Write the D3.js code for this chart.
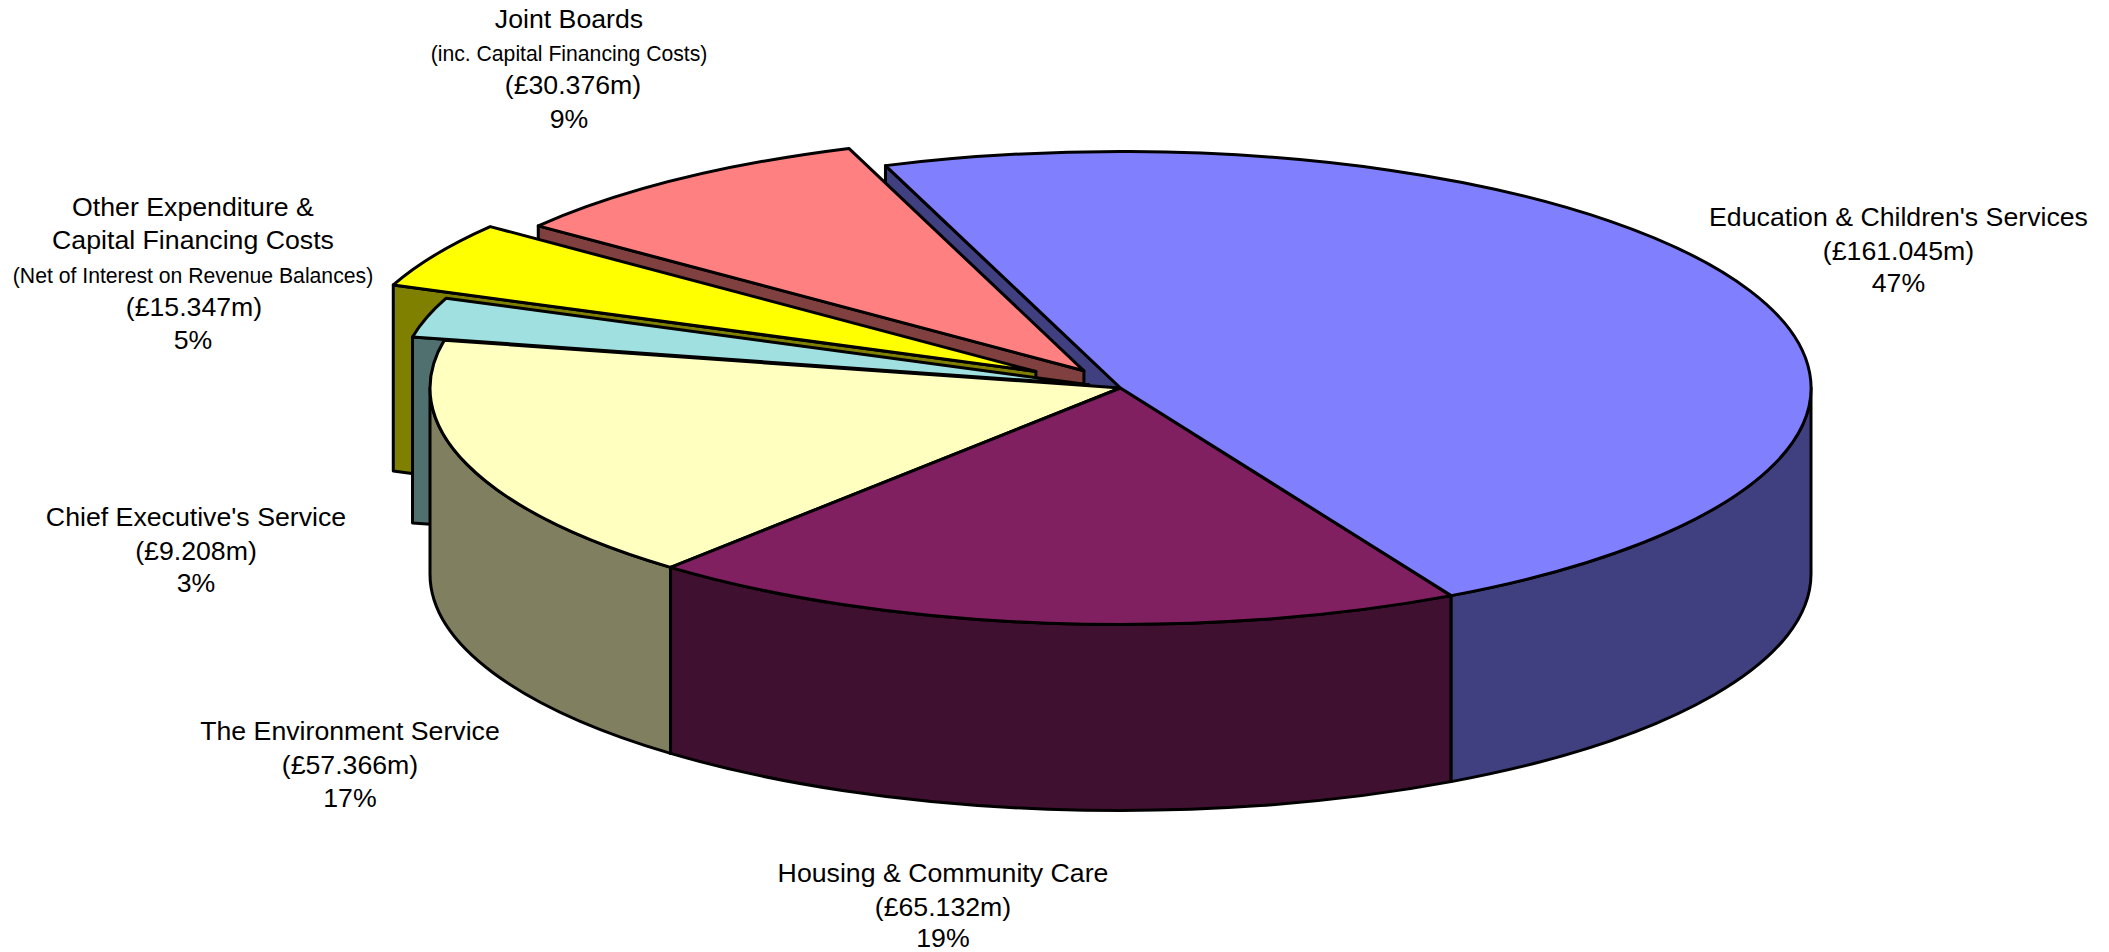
<!DOCTYPE html>
<html>
<head>
<meta charset="utf-8">
<style>
  html, body { margin: 0; padding: 0; background: #fff; }
  svg { display: block; }
  text { font-family: "Liberation Sans", Arial, sans-serif; fill: #000; text-anchor: middle; }
</style>
<script src="https://cdn.jsdelivr.net/npm/d3@7/dist/d3.min.js"></script>
</head>
<body>
<svg id="chart" width="2109" height="952"></svg>
<script>
// Budget breakdown, in £ million, clockwise from the back of the pie.
const services = [
  "Education & Children's Services",
  "Housing & Community Care",
  "The Environment Service",
  "Chief Executive's Service",
  "Other Expenditure & Capital Financing Costs",
  "Joint Boards"
];
const amounts = [161.045, 65.132, 57.366, 9.208, 15.347, 30.376];
const amountLabels = ["(£161.045m)", "(£65.132m)", "(£57.366m)", "(£9.208m)", "(£15.347m)", "(£30.376m)"];
const percentLabels = ["47%", "19%", "17%", "3%", "5%", "9%"];
const topColours = ["#8080ff", "#802060", "#ffffc0", "#a0e0e0", "#ffff00", "#ff8080"];
const sideColours = ["#404080", "#401030", "#808060", "#507070", "#808000", "#804040"];

// How far each slice is pulled out of the pie, as a share of the radius.
const explode = [0, 0, 0, 0.048, 0.141, 0.09];

// Pie geometry.
const cx = 1120.5, cy = 388, rx = 690.5, ry = 236.5, depth = 186;
const startDeg = -19.9;
const stroke = 3;

// Label blocks: centre x, then one [text, size, baseline, x nudge] row per line.
const big = 26.7, small = 21.2;
const labelBlocks = [
  { x: 1898.5, rows: [[services[0], big, 226], [amountLabels[0], big, 260], [percentLabels[0], big, 292]] },
  { x: 943,  rows: [[services[1], big, 881.5], [amountLabels[1], big, 916], [percentLabels[1], big, 947]] },
  { x: 350,  rows: [[services[2], big, 740], [amountLabels[2], big, 774], [percentLabels[2], big, 807]] },
  { x: 196,  rows: [[services[3], big, 526], [amountLabels[3], big, 560], [percentLabels[3], big, 592]] },
  { x: 193,  rows: [["Other Expenditure &", big, 216], ["Capital Financing Costs", big, 249],
                    ["(Net of Interest on Revenue Balances)", small, 283],
                    [amountLabels[4], big, 316, 1], [percentLabels[4], big, 349]] },
  { x: 569,  rows: [[services[5], big, 27.5], ["(inc. Capital Financing Costs)", small, 61],
                    [amountLabels[5], big, 94, 4], [percentLabels[5], big, 128]] }
];

const svg = d3.select("#chart");

const slices = d3.pie()
  .sort(null)
  .startAngle(startDeg * Math.PI / 180)
  .endAngle((startDeg + 360) * Math.PI / 180)(amounts)
  .map((s, i) => {
    const mid = (s.startAngle + s.endAngle) / 2;
    return {
      ...s, i,
      ox: cx + Math.sin(mid) * rx * explode[i],
      oy: cy - Math.cos(mid) * ry * explode[i]
    };
  });

const rim = (s, a) => [s.ox + Math.sin(a) * rx, s.oy - Math.cos(a) * ry];
const fmt = p => p.map(v => +v.toFixed(2)).join(" ");

function topPath(s) {
  const large = s.endAngle - s.startAngle > Math.PI ? 1 : 0;
  return `M${fmt([s.ox, s.oy])}L${fmt(rim(s, s.startAngle))}` +
         `A${rx} ${ry} 0 ${large} 1 ${fmt(rim(s, s.endAngle))}Z`;
}

// Flat face exposed along a slice's starting edge.
function cutFacePath(s) {
  const p = rim(s, s.startAngle);
  return `M${fmt([s.ox, s.oy])}L${fmt(p)}L${fmt([p[0], p[1] + depth])}` +
         `L${fmt([s.ox, s.oy + depth])}Z`;
}

// Curved outer wall: only the stretch facing the viewer, between 90° and 270°.
function wallPath(s, a0, a1) {
  const p0 = rim(s, a0), p1 = rim(s, a1);
  return `M${fmt(p0)}A${rx} ${ry} 0 0 1 ${fmt(p1)}` +
         `L${fmt([p1[0], p1[1] + depth])}` +
         `A${rx} ${ry} 0 0 0 ${fmt([p0[0], p0[1] + depth])}Z`;
}

const shape = (d, fill) => svg.append("path")
  .attr("d", d).attr("fill", fill)
  .attr("stroke", "#000").attr("stroke-width", stroke)
  .attr("stroke-linejoin", "round");

const visibleWall = s => {
  const lo = Math.max(s.startAngle, Math.PI / 2);
  const hi = Math.min(s.endAngle, 3 * Math.PI / 2);
  return lo < hi ? [lo, hi] : null;
};

// Painted back to front: the pulled-out slices sit behind the main body.
const paintOrder = [0, 5, 4, 3, 2, 1];
paintOrder.forEach(i => {
  const s = slices[i];
  shape(cutFacePath(s), sideColours[i]);
  if (i === 0) return;
  const w = visibleWall(s);
  if (w) shape(wallPath(s, w[0], w[1]), sideColours[i]);
  shape(topPath(s), topColours[i]);
});

// The large slice goes on top so its wall and surface close the front of the pie.
const lead = slices[0];
const leadWall = visibleWall(lead);
shape(wallPath(lead, leadWall[0], leadWall[1]), sideColours[0]);
shape(topPath(lead), topColours[0]);

labelBlocks.forEach(b => {
  b.rows.forEach(([t, size, y, nudge = 0]) => {
    svg.append("text").attr("x", b.x + nudge).attr("y", y).attr("font-size", size).text(t);
  });
});
</script>
</body>
</html>
